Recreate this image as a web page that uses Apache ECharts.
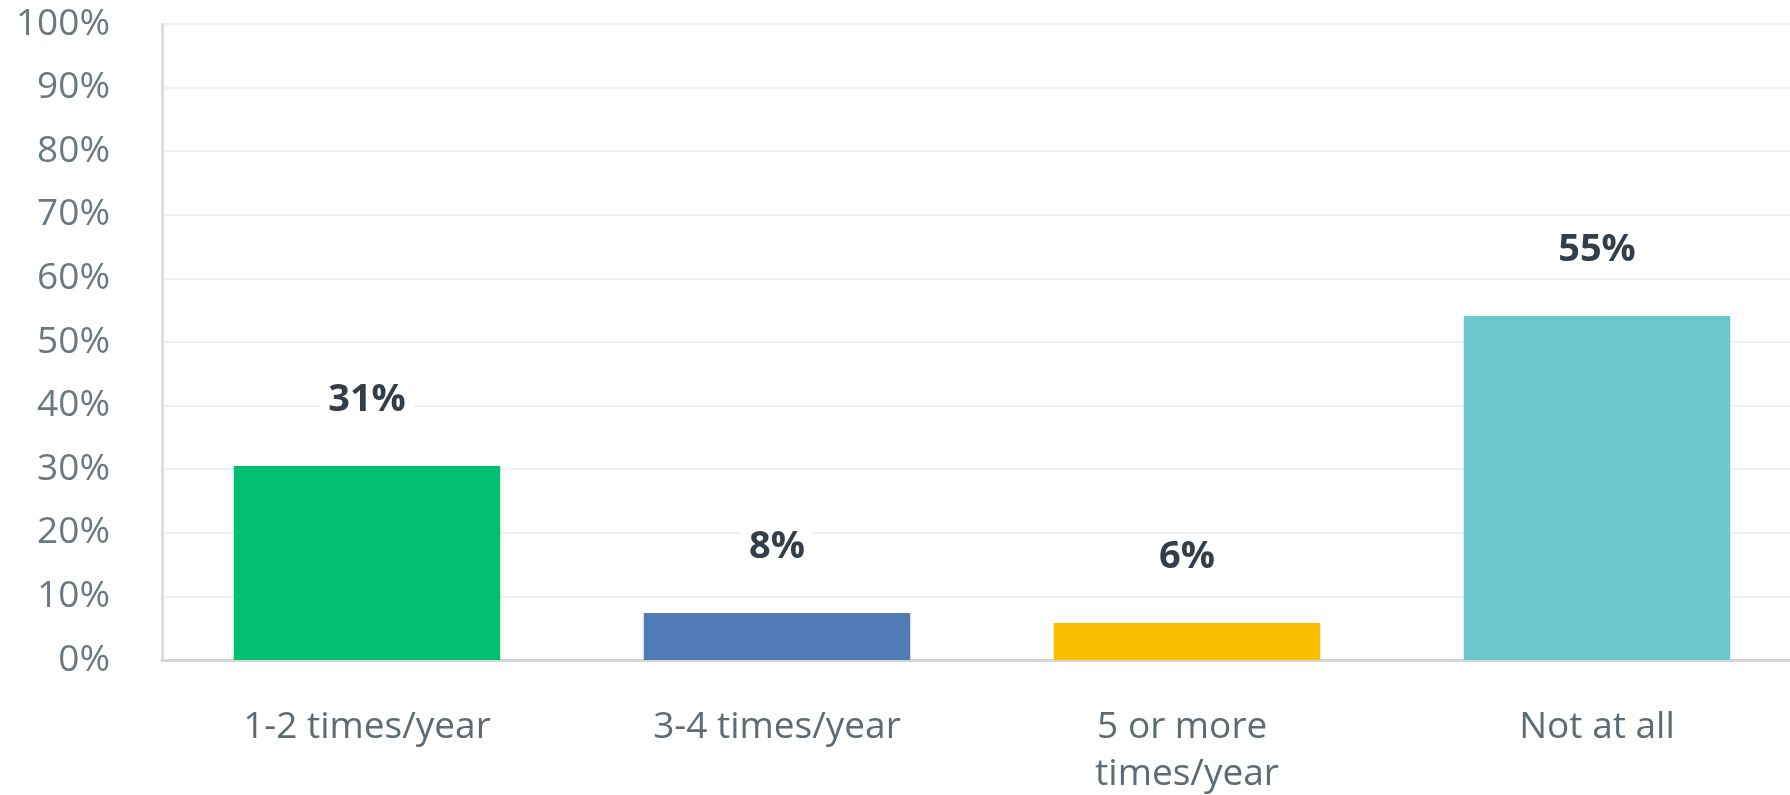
<!DOCTYPE html>
<html>
<head>
<meta charset="utf-8">
<script src="https://cdn.jsdelivr.net/npm/echarts@6/dist/echarts.min.js"></script>
<style>
html,body{margin:0;padding:0;background:#fff;}
#chart{width:1790px;height:795px;}
</style>
</head>
<body>
<div id="chart"></div>
<script>
const categories = ['1-2 times/year', '3-4 times/year', '5 or more times/year', 'Not at all'];
const values = [30.5, 7.4, 5.8, 54.1];
const valueLabels = ['31%', '8%', '6%', '55%'];
const colors = ['#00bf6f', '#507cb6', '#f9be00', '#6bc8cd'];
const yTicks = [0, 10, 20, 30, 40, 50, 60, 70, 80, 90, 100];

const chart = echarts.init(document.getElementById('chart'));
chart.setOption({
  animation: false,
  grid: { left: 162, width: 1640, top: 24, bottom: 135, containLabel: false, outerBoundsMode: 'none' },
  xAxis: {
    type: 'category',
    data: categories,
    axisLine: { show: true, lineStyle: { color: '#d3d5d6', width: 3 } },
    axisTick: { show: false },
    axisLabel: {
      color: '#5f6b72', fontFamily: 'Open Sans', fontSize: 37, margin: 44,
      lineHeight: 47, width: 262, overflow: 'break', interval: 0
    }
  },
  yAxis: {
    type: 'value',
    min: yTicks[0], max: yTicks[yTicks.length - 1], interval: 10,
    axisLine: { show: true, lineStyle: { color: '#dcdedf', width: 3 } },
    axisTick: { show: false },
    splitLine: { lineStyle: { color: '#eef0f1', width: 2 } },
    axisLabel: {
      color: '#6b787f', fontFamily: 'Open Sans', fontSize: 37, margin: 52,
      formatter: v => v + '%'
    }
  },
  series: [{
    type: 'bar',
    data: values.map((v, i) => ({ value: v, itemStyle: { color: colors[i] } })),
    barWidth: '65%',
    label: {
      show: true, position: 'top', distance: 47,
      color: '#333e48', fontFamily: 'Open Sans', fontWeight: 'bold', fontSize: 38,
      backgroundColor: '#fff', padding: [0, 8],
      formatter: p => valueLabels[p.dataIndex]
    }
  }]
});
</script>
</body>
</html>
